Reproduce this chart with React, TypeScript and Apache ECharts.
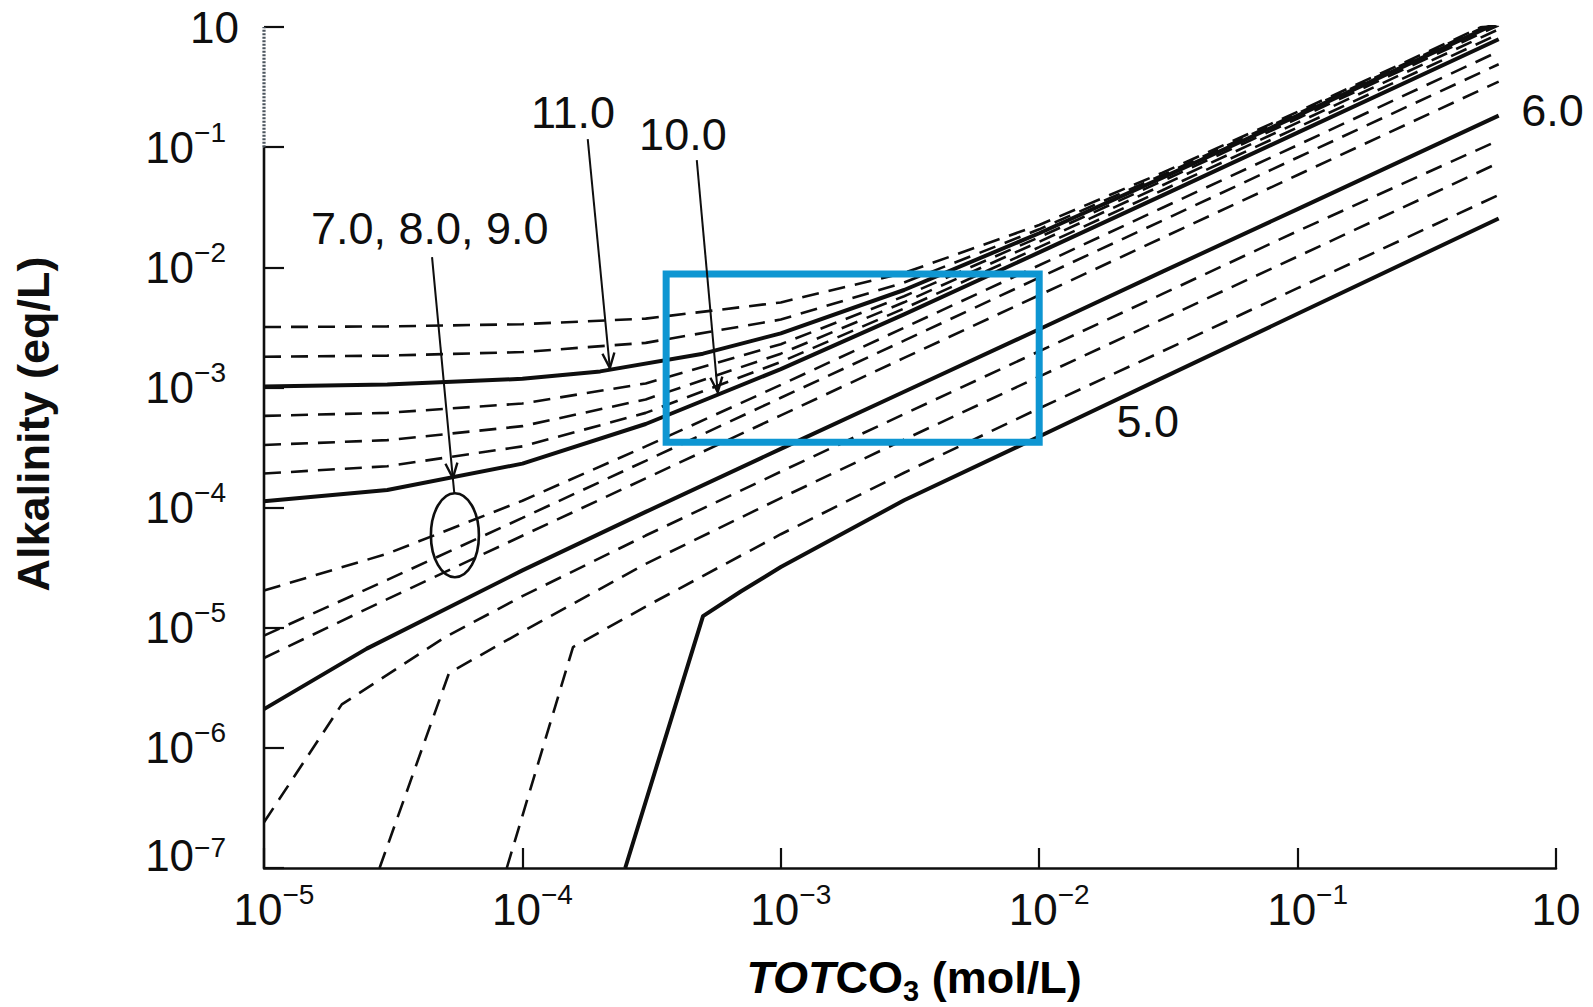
import React, { useEffect, useRef } from 'react';
import * as echarts from 'echarts';

const FONT = '"Liberation Sans", Arimo, Arial, Helvetica, sans-serif';
const INK = '#0e0e0e';

// ---- data (TOTCO3 in mol/L, alkalinity in eq/L) ----
const totco3Grid = [1e-5, 3e-5, 1e-4, 3e-4, 1e-3, 3e-3, 1e-2, 3e-2, 0.1, 0.6];

const alkPH1150 = [3.18e-3, 3.22e-3, 3.36e-3, 3.74e-3, 5.1e-3, 8.97e-3, 2.25e-2, 6.13e-2, 0.197, 1.165];
const alkPH1125 = [1.8e-3, 1.84e-3, 1.97e-3, 2.35e-3, 3.67e-3, 7.46e-3, 2.07e-2, 5.86e-2, 0.191, 1.137];
const totco3PH1100 = [1e-5, 3e-5, 1e-4, 2e-4, 5e-4, 1e-3, 3e-3, 1e-2, 3e-2, 0.1, 0.6];
const alkPH1100 = [1.02e-3, 1.06e-3, 1.18e-3, 1.36e-3, 1.91e-3, 2.82e-3, 6.47e-3, 1.92e-2, 5.57e-2, 0.183, 1.095];
const alkPH1075 = [5.8e-4, 6.14e-4, 7.35e-4, 1.08e-3, 2.29e-3, 5.74e-3, 1.78e-2, 5.23e-2, 0.173, 1.035];
const alkPH1050 = [3.32e-4, 3.64e-4, 4.76e-4, 7.95e-4, 1.91e-3, 5.11e-3, 1.63e-2, 4.82e-2, 0.16, 0.958];
const alkPH1025 = [1.92e-4, 2.21e-4, 3.23e-4, 6.14e-4, 1.63e-3, 4.54e-3, 1.47e-2, 4.38e-2, 0.146, 0.873];
const alkPH1000 = [1.13e-4, 1.4e-4, 2.32e-4, 4.96e-4, 1.42e-3, 4.06e-3, 1.33e-2, 3.97e-2, 0.132, 0.791];
const alkPH900 = [2.04e-5, 4.13e-5, 1.14e-4, 3.23e-4, 1.05e-3, 3.14e-3, 1.04e-2, 3.13e-2, 0.104, 0.626];
const alkPH800 = [8.6e-6, 2.5e-5, 8.2e-5, 2.45e-4, 8.2e-4, 2.45e-3, 8.2e-3, 2.45e-2, 8.2e-2, 0.49];
const alkPH700 = [5.6e-6, 1.73e-5, 5.83e-5, 1.75e-4, 5.85e-4, 1.76e-3, 5.86e-3, 1.76e-2, 5.86e-2, 0.351];

const totco3PH600 = [1e-5, 2.5e-5, 1e-4, 3e-4, 1e-3, 3e-3, 1e-2, 3e-2, 0.1, 0.6];
const alkPH600 = [2.1e-6, 6.7e-6, 3.0e-5, 9.2e-5, 3.08e-4, 9.2e-4, 3.05e-3, 9.2e-3, 3.05e-2, 0.183];

const totco3PH575 = [1e-5, 2e-5, 5e-5, 1e-4, 3e-4, 1e-3, 3e-3, 1e-2, 3e-2, 0.1, 0.6];
const alkPH575 = [2.4e-7, 2.3e-6, 8.3e-6, 1.83e-5, 5.85e-5, 1.99e-4, 6.0e-4, 2.0e-3, 6.0e-3, 2.0e-2, 0.114];

const totco3PH550 = [2.8e-5, 5.2e-5, 1e-4, 3e-4, 1e-3, 3e-3, 1e-2, 3e-2, 0.1, 0.6];
const alkPH550 = [1e-7, 4.2e-6, 9.3e-6, 3.4e-5, 1.2e-4, 3.68e-4, 1.23e-3, 3.7e-3, 1.23e-2, 0.074];

const totco3PH525 = [8.7e-5, 1.57e-4, 3e-4, 1e-3, 3e-3, 1e-2, 3e-2, 0.1, 0.6];
const alkPH525 = [1e-7, 6.9e-6, 1.5e-5, 6.0e-5, 1.95e-4, 6.7e-4, 2.0e-3, 6.7e-3, 0.04];

const totco3PH500 = [2.5e-4, 5e-4, 7e-4, 1e-3, 3e-3, 1e-2, 3e-2, 0.1, 0.6];
const alkPH500 = [1e-7, 1.25e-5, 2.0e-5, 3.2e-5, 1.15e-4, 3.9e-4, 1.2e-3, 4.1e-3, 0.0255];

const curvePH = ['11.5', '11.25', '11.0', '10.75', '10.5', '10.25', '10.0', '9.0', '8.0', '7.0', '6.0', '5.75', '5.5', '5.25', '5.0'];
const curveC = [
  totco3Grid, totco3Grid, totco3PH1100, totco3Grid, totco3Grid, totco3Grid, totco3Grid,
  totco3Grid, totco3Grid, totco3Grid, totco3PH600, totco3PH575, totco3PH550, totco3PH525, totco3PH500,
];
const curveAlk = [
  alkPH1150, alkPH1125, alkPH1100, alkPH1075, alkPH1050, alkPH1025, alkPH1000,
  alkPH900, alkPH800, alkPH700, alkPH600, alkPH575, alkPH550, alkPH525, alkPH500,
];
const curveSolid = [false, false, true, false, false, false, true, false, false, false, true, false, false, false, true];

// highlighted window
const boxC = [3.6e-4, 1.0e-2];
const boxAlk = [3.5e-4, 8.8e-3];

// y axis segments
const yAxisSolidAlk = [1e-7, 1e-1];
const yAxisHatchAlk = [1e-1, 1];

// annotation labels (anchored in data coordinates)
const labelTexts = ['11.0', '10.0', '7.0, 8.0, 9.0', '6.0', '5.0'];
const labelC = [1.57e-4, 4.18e-4, 4.38e-5, 0.97, 2.63e-2];
const labelAlk = [0.196, 0.1285, 0.0212, 0.2, 5.24e-4];

// annotation arrows
const arrowFromC = [1.79e-4, 4.73e-4, 4.47e-5, 5.38e-5];
const arrowFromAlk = [0.1168, 0.0781, 0.01216, 1.76e-4];
const arrowToC = [2.18e-4, 5.7e-4, 5.38e-5, 5.45e-5];
const arrowToAlk = [1.45e-3, 9.14e-4, 1.76e-4, 1.318e-4];
const arrowHead = [1, 1, 1, 0];

// ellipse around the 7.0 / 8.0 / 9.0 curves
const ringC = [5.48e-5];
const ringAlk = [5.89e-5];

const App: React.FC = () => {
  const ref = useRef<HTMLDivElement>(null);

  useEffect(() => {
    if (!ref.current) return;
    const chart = echarts.init(ref.current, undefined, { renderer: 'svg' });

    const baseRich = {
      b: { fontSize: 44, lineHeight: 58, fontFamily: FONT, color: INK },
      bt: { fontSize: 44, lineHeight: 58, verticalAlign: 'top', fontFamily: FONT, color: INK },
      s: { fontSize: 28, lineHeight: 28, verticalAlign: 'top', fontFamily: FONT, color: INK },
      pad: { width: 20, height: 10 },
      tail: { width: 13, height: 10 },
      tall: { width: 1, height: 70, lineHeight: 70 },
    };

    const xFmt = (v: number) => {
      const e = Math.round(Math.log10(v));
      return e === 0 ? '{b|10}' : `{pad|}{b|10}{s|\u2212${-e}}`;
    };
    const yFmt = (v: number) => {
      const e = Math.round(Math.log10(v));
      if (e === 0) return '{b|10}';
      if (e === -7) return `{tall|}{bt|10}{s|\u2212${-e}}{tail|}`;
      return `{b|10}{s|\u2212${-e}}{tail|}`;
    };

    const curveSeries = curvePH.map((ph, k) => ({
      type: 'line',
      name: 'pH ' + ph,
      data: curveC[k].map((c, i) => [c, curveAlk[k][i]]),
      symbol: 'none',
      showSymbol: false,
      silent: true,
      clip: true,
      z: curveSolid[k] ? 4 : 3,
      lineStyle: curveSolid[k]
        ? { color: INK, width: 4, type: 'solid', cap: 'butt', join: 'round' }
        : { color: INK, width: 2.6, type: [17, 10], cap: 'butt' },
    }));

    const option: any = {
      animation: false,
      backgroundColor: '#ffffff',
      grid: { left: 264, right: 37, top: 27, bottom: 139 },
      xAxis: {
        type: 'log',
        logBase: 10,
        min: 1e-5,
        max: 1,
        splitNumber: 5,
        axisLine: { show: true, lineStyle: { color: INK, width: 2.6 } },
        axisTick: { show: true, inside: true, length: 20, lineStyle: { color: INK, width: 2.2 } },
        minorTick: { show: false },
        splitLine: { show: false },
        axisLabel: { margin: 12, formatter: xFmt, rich: baseRich, showMinLabel: true, showMaxLabel: true },
      },
      yAxis: {
        type: 'log',
        logBase: 10,
        min: 1e-7,
        max: 1,
        splitNumber: 7,
        axisLine: { show: false },
        axisTick: { show: true, inside: true, length: 20, lineStyle: { color: INK, width: 2.2 } },
        minorTick: { show: false },
        splitLine: { show: false },
        axisLabel: { margin: 25, formatter: yFmt, rich: baseRich, showMinLabel: true, showMaxLabel: true },
      },
      graphic: [
        {
          type: 'text',
          x: 33,
          y: 424,
          rotation: Math.PI / 2,
          style: {
            text: 'Alkalinity (eq/L)',
            fontSize: 45,
            fontWeight: 'bold',
            fontFamily: FONT,
            fill: INK,
            align: 'center',
            verticalAlign: 'middle',
            textAlign: 'center',
            textVerticalAlign: 'middle',
          },
        },
        {
          type: 'text',
          x: 914,
          y: 977,
          style: {
            text: '{i|TOT}{b|CO}{sub|3}{b| (mol/L)}',
            align: 'center',
            verticalAlign: 'middle',
            textAlign: 'center',
            textVerticalAlign: 'middle',
            rich: {
              i: { fontSize: 45, lineHeight: 56, fontWeight: 'bold', fontStyle: 'italic', fontFamily: FONT, color: INK },
              b: { fontSize: 45, lineHeight: 56, fontWeight: 'bold', fontFamily: FONT, color: INK },
              sub: { fontSize: 29, lineHeight: 29, verticalAlign: 'bottom', fontWeight: 'bold', fontFamily: FONT, color: INK },
            },
          },
        },
      ],
      series: [
        ...curveSeries,
        {
          type: 'line',
          name: 'y-axis',
          data: yAxisSolidAlk.map((a) => [1e-5, a]),
          symbol: 'none',
          silent: true,
          clip: false,
          z: 6,
          lineStyle: { color: INK, width: 2.6 },
        },
        {
          type: 'line',
          name: 'y-axis-top',
          data: yAxisHatchAlk.map((a) => [1e-5, a]),
          symbol: 'none',
          silent: true,
          clip: false,
          z: 6,
          lineStyle: { color: '#4b545e', width: 3.2, type: [2, 1.5] },
        },
        {
          type: 'line',
          name: 'window',
          data: [
            [boxC[0], boxAlk[0]],
            [boxC[1], boxAlk[0]],
            [boxC[1], boxAlk[1]],
            [boxC[0], boxAlk[1]],
            [boxC[0], boxAlk[0]],
          ],
          symbol: 'none',
          silent: true,
          z: 8,
          lineStyle: { color: '#0e96d2', width: 7, join: 'miter', cap: 'square' },
        },
        {
          type: 'scatter',
          name: 'labels',
          data: labelC.map((c, i) => [c, labelAlk[i]]),
          symbol: 'circle',
          symbolSize: 1,
          silent: true,
          z: 9,
          itemStyle: { color: 'rgba(0,0,0,0)', opacity: 1 },
          label: {
            show: true,
            position: 'inside',
            formatter: (p: any) => labelTexts[p.dataIndex],
            fontSize: 45,
            fontFamily: FONT,
            color: INK,
            opacity: 1,
            textBorderWidth: 0,
          },
        },
        {
          type: 'custom',
          name: 'arrows',
          coordinateSystem: 'cartesian2d',
          silent: true,
          z: 9,
          data: arrowFromC.map((c, i) => [c, arrowFromAlk[i], arrowToC[i], arrowToAlk[i], arrowHead[i]]),
          encode: { x: [0, 2], y: [1, 3] },
          renderItem: (params: any, api: any) => {
            const p1 = api.coord([api.value(0), api.value(1)]);
            const p2 = api.coord([api.value(2), api.value(3)]);
            const children: any[] = [
              {
                type: 'line',
                shape: { x1: p1[0], y1: p1[1], x2: p2[0], y2: p2[1] },
                style: { stroke: INK, lineWidth: 2 },
              },
            ];
            if (api.value(4)) {
              const dx = p2[0] - p1[0];
              const dy = p2[1] - p1[1];
              const len = Math.sqrt(dx * dx + dy * dy) || 1;
              const ux = dx / len;
              const uy = dy / len;
              const L = 15;
              const W = 6;
              children.push({
                type: 'polyline',
                shape: {
                  points: [
                    [p2[0] - L * ux - W * uy, p2[1] - L * uy + W * ux],
                    [p2[0], p2[1]],
                    [p2[0] - L * ux + W * uy, p2[1] - L * uy - W * ux],
                  ],
                },
                style: { stroke: INK, fill: 'none', lineWidth: 2.4 },
              });
            }
            return { type: 'group', children };
          },
        },
        {
          type: 'custom',
          name: 'ring',
          coordinateSystem: 'cartesian2d',
          silent: true,
          z: 9,
          data: ringC.map((c, i) => [c, ringAlk[i]]),
          renderItem: (params: any, api: any) => {
            const p = api.coord([api.value(0), api.value(1)]);
            return {
              type: 'ellipse',
              shape: { cx: p[0], cy: p[1], rx: 24, ry: 42 },
              style: { stroke: INK, fill: 'none', lineWidth: 2.6 },
            };
          },
        },
      ],
    };

    chart.setOption(option);
    return () => chart.dispose();
  }, []);

  return (
    <div
      ref={ref}
      style={{ position: 'fixed', left: 0, top: 0, width: '1593px', height: '1007px', background: '#fff' }}
    />
  );
};

export default App;
